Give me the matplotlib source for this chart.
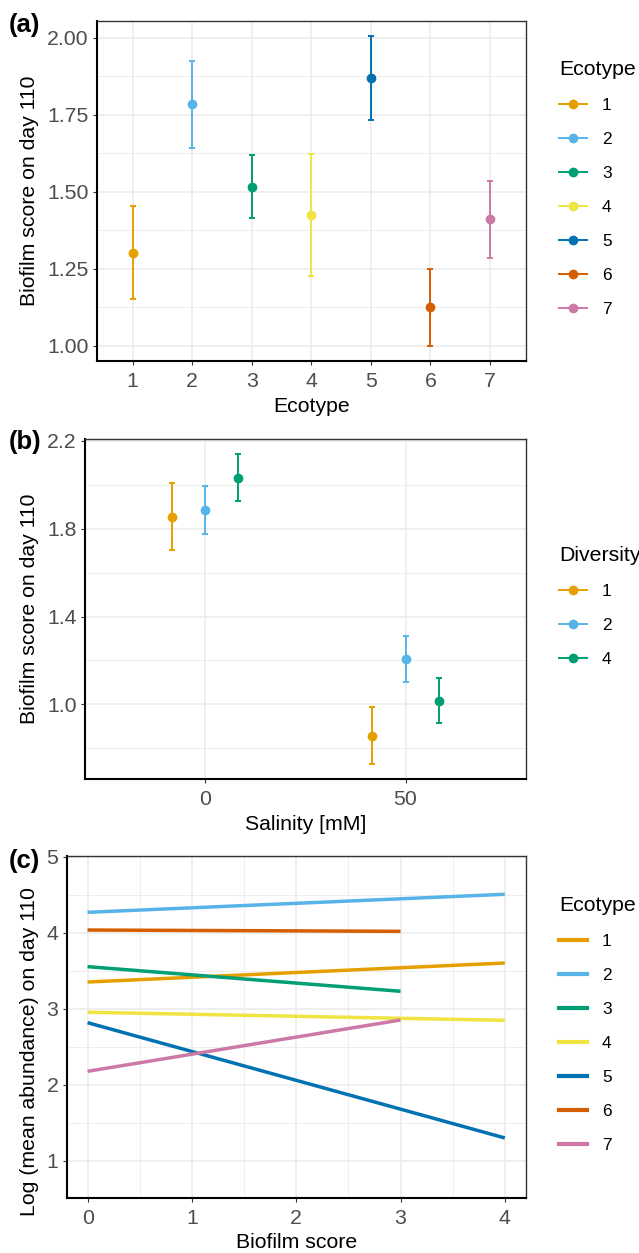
import matplotlib

matplotlib.use("Agg")
import matplotlib.pyplot as plt
import numpy as np
from matplotlib.lines import Line2D

plt.rcParams["font.family"] = ["Liberation Sans", "DejaVu Sans"]

PALETTE = ["#E69F00", "#56B4E9", "#009E73", "#F0E442", "#0072B2", "#D55E00", "#CC79A7"]

# panel (a): biofilm score per ecotype
ecotypes = [1, 2, 3, 4, 5, 6, 7]
eco_mean = [1.302, 1.784, 1.516, 1.423, 1.868, 1.125, 1.410]
eco_low = [1.152, 1.643, 1.414, 1.225, 1.731, 1.000, 1.286]
eco_high = [1.453, 1.924, 1.619, 1.622, 2.006, 1.250, 1.534]

# panel (b): biofilm score by salinity and diversity
diversity = ["1", "2", "4"]
salinity = [0, 50]
div_mean = {"1": [1.855, 0.857], "2": [1.884, 1.206], "4": [2.033, 1.017]}
div_low = {"1": [1.703, 0.728], "2": [1.775, 1.102], "4": [1.925, 0.916]}
div_high = {"1": [2.007, 0.986], "2": [1.995, 1.313], "4": [2.141, 1.121]}

# panel (c): fitted lines, abundance vs biofilm score
line_x_end = [4, 4, 3, 4, 4, 3, 3]
line_y_start = [3.351, 4.268, 3.553, 2.953, 2.816, 4.035, 2.176]
line_y_end = [3.601, 4.505, 3.229, 2.847, 1.299, 4.018, 2.851]

W, H = 639, 1253
TITLE_SIZE = 15.3
TICK_SIZE = 15.3
KEY_SIZE = 12.4

fig = plt.figure(figsize=(W / 100, H / 100), dpi=100)


def add_panel(left, top, right, bottom):
    return fig.add_axes([left / W, 1 - bottom / H, (right - left) / W, (bottom - top) / H])


def style(ax):
    ax.set_facecolor("white")
    for side in ["left", "bottom"]:
        ax.spines[side].set_color("black")
        ax.spines[side].set_linewidth(1.5)
    for side in ["top", "right"]:
        ax.spines[side].set_color("#333333")
        ax.spines[side].set_linewidth(1.0)
    ax.grid(which="major", color="#EBEBEB", linewidth=1.1)
    ax.grid(which="minor", color="#EBEBEB", linewidth=0.6)
    ax.set_axisbelow(True)
    ax.tick_params(which="major", length=3, width=0.8, color="#333333",
                   labelsize=TICK_SIZE, labelcolor="#4D4D4D")
    ax.tick_params(axis="x", which="major", pad=5)
    ax.tick_params(axis="y", which="major", pad=3)
    ax.tick_params(which="minor", length=0)


def set_ylabel(ax, text, left, top, bottom, center_y=None):
    # place the rotated label by its centre, in figure pixels
    ax.set_ylabel(text, fontsize=TITLE_SIZE, va="center")
    cy = (top + bottom) / 2 if center_y is None else center_y
    ax.yaxis.set_label_coords(-(left - 30) / ax.bbox.width, (bottom - cy) / (bottom - top))


def legend(handles, labels, title, x, y):
    return fig.legend(handles, labels, title=title, loc="upper left",
                      bbox_to_anchor=(x / W, 1 - y / H), frameon=False,
                      fontsize=KEY_SIZE, title_fontsize=TITLE_SIZE, handlelength=1.65,
                      handletextpad=0.85, labelspacing=1.1, borderpad=0.2,
                      alignment="left")


# ---- (a)
left, top, right, bottom = 97, 20.7, 525.7, 361
ax = add_panel(left, top, right, bottom)
style(ax)
handles = []
for i, e in enumerate(ecotypes):
    err = [[eco_mean[i] - eco_low[i]], [eco_high[i] - eco_mean[i]]]
    ax.errorbar([e], [eco_mean[i]], yerr=err, color=PALETTE[i], fmt="o",
                markersize=6, elinewidth=1.4, capsize=2.0, capthick=1.4)
    handles.append(Line2D([], [], color=PALETTE[i], marker="o", markersize=6, linewidth=1.4))
ax.set_xlim(0.4, 7.6)
ax.set_ylim(0.95, 2.055)
ax.set_xticks(ecotypes)
ax.set_yticks([1.0, 1.25, 1.5, 1.75, 2.0])
ax.set_yticklabels(["1.00", "1.25", "1.50", "1.75", "2.00"])
ax.set_yticks([1.125, 1.375, 1.625, 1.875], minor=True)
ax.set_xlabel("Ecotype", fontsize=TITLE_SIZE, labelpad=4)
set_ylabel(ax, "Biofilm score on day 110", left, top, bottom)
legend(handles, [str(e) for e in ecotypes], "Ecotype", 547, 47.6)
fig.text(9 / W, 1 - 25 / H, "(a)", fontsize=18.5, fontweight="bold", va="center")

# ---- (b)
left, top, right, bottom = 85, 439, 525.7, 779.3
ax = add_panel(left, top, right, bottom)
style(ax)
dodge = [-8.3, 0.0, 8.3]
handles = []
for i, d in enumerate(diversity):
    xs = np.array(salinity) + dodge[i]
    m = np.array(div_mean[d])
    err = [m - np.array(div_low[d]), np.array(div_high[d]) - m]
    ax.errorbar(xs, m, yerr=err, color=PALETTE[i], fmt="o",
                markersize=6, elinewidth=1.4, capsize=2.0, capthick=1.4)
    handles.append(Line2D([], [], color=PALETTE[i], marker="o", markersize=6, linewidth=1.4))
ax.set_xlim(-30, 80)
ax.set_ylim(0.658, 2.209)
ax.set_xticks(salinity)
ax.set_yticks([1.0, 1.4, 1.8, 2.2])
ax.set_yticks([0.8, 1.2, 1.6, 2.0], minor=True)
ax.set_xlabel("Salinity [mM]", fontsize=TITLE_SIZE, labelpad=4)
set_ylabel(ax, "Biofilm score on day 110", left, top, bottom)
legend(handles, diversity, "Diversity", 547, 533.6)
fig.text(9 / W, 1 - 442 / H, "(b)", fontsize=18.5, fontweight="bold", va="center")

# ---- (c)
left, top, right, bottom = 66.7, 856.3, 525.7, 1197.7
ax = add_panel(left, top, right, bottom)
style(ax)
handles = []
for i, e in enumerate(ecotypes):
    ax.plot([0, line_x_end[i]], [line_y_start[i], line_y_end[i]],
            color=PALETTE[i], linewidth=2.5, solid_capstyle="butt")
    handles.append(Line2D([], [], color=PALETTE[i], linewidth=3.0))
ax.set_xlim(-0.2, 4.2)
ax.set_ylim(0.513, 5.005)
ax.set_xticks([0, 1, 2, 3, 4])
ax.set_xticks([0.5, 1.5, 2.5, 3.5], minor=True)
ax.set_yticks([1, 2, 3, 4, 5])
ax.set_yticks([1.5, 2.5, 3.5, 4.5], minor=True)
ax.set_xlabel("Biofilm score", fontsize=TITLE_SIZE, labelpad=4)
set_ylabel(ax, "Log (mean abundance) on day 110", left, top, bottom, center_y=1052)
legend(handles, [str(e) for e in ecotypes], "Ecotype", 547, 883.6)
fig.text(9 / W, 1 - 861 / H, "(c)", fontsize=18.5, fontweight="bold", va="center")

fig.savefig("out.png", dpi=100, facecolor="white")
